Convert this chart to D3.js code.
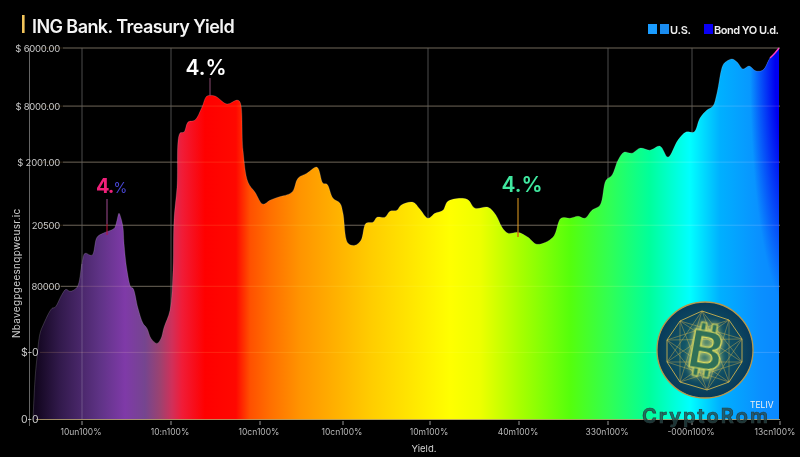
<!DOCTYPE html>
<html><head><meta charset="utf-8">
<script src="https://cdn.jsdelivr.net/npm/d3@7/dist/d3.min.js"></script>
<style>html,body{margin:0;background:#000}svg{display:block}text{font-family:Inter,"Noto Sans",sans-serif}</style>
</head><body><svg id="c" width="800" height="457"></svg>
<script>
const samples = [33,35,37,40,43,52,55,62,66,70,77,82,85,92,97,103,113,115,117,119,121,123,124,127,131,133,138,143,147,151,157,161,164,170,173,174,177,180,184,188,195,202,207,215,227,237,240,243,248,255,263,270,278,292,298,307,317,323,327,333,340,343,348,355,361,366,373,377,385,390,397,401,413,420,428,435,443,448,467,475,488,496,502,508,518,528,537,553,561,570,578,585,592,600,606,612,618,624,632,640,650,660,668,678,686,694,700,707,713,717,723,727,732,737,743,749,756,763,770,775,779];
const yields  = [0,40,62,86,94,111,112,125,130,128,132,156,166,164,182,186,190,192,199,206,201,192,176,149,132,131,111,96,91,81,76,81,92,109,149,199,232,286,287,297,299,312,323,323,315,319,317,269,237,227,215,219,222,227,241,246,252,236,235,221,216,206,176,174,179,196,197,202,202,208,209,214,217,210,201,206,209,218,220,211,212,204,192,186,187,182,175,182,201,201,203,201,209,214,239,244,259,267,266,271,269,273,262,279,287,287,301,309,313,326,354,358,360,357,350,353,348,349,361,366,371];
const xTicks = [82,171,260,343,430,519,608,692,780];
const xLabels = ["10un100%","10:n100%","10cn100%","10cn100%","10m100%","40m100%","330n100%","-000n100%","13cn100%"];
const xGrid = [82,171,428,608,692];
const yTicks = [371,313,257,194,133,67,0];
const yLabels = ["$ 6000.00","$ 8000.00","$ 2001.00","20500","80000","$-0","0-0"];
const colorPos = [36,60,100,125,145,160,172,182,205,236,250,270,300,370,420,450,480,520,570,610,650,690,720,760,779];
const colorVal = ["#12061f","#321a4c","#5f3386","#7f3aa8","#75458f","#9c4270","#d0305a","#f01c38","#ff0000","#ff0800","#ff5000","#ff6f00","#ff9400","#ffcc00","#ffec00","#ffff00","#eeff00","#a8ff00","#55ff0c","#30ff55","#00ff9c","#00ffff","#00b0ff","#0a90ff","#0a88ff"];

const svg = d3.select("#c");
const x = d3.scaleLinear().domain([0,800]).range([0,800]);
const y = d3.scaleLinear().domain([0,371]).range([419.5,48]);
const defs = svg.append("defs");
const pct = d3.scaleLinear().domain([33,779]).range([0,100]);
const g = defs.append("linearGradient").attr("id","rb");
colorPos.forEach((p,i)=>g.append("stop").attr("offset",pct(p)+"%").attr("stop-color",colorVal[i]));
const bl = defs.append("radialGradient").attr("id","bl").attr("gradientUnits","userSpaceOnUse")
  .attr("cx",0).attr("cy",0).attr("r",1).attr("gradientTransform","translate(792,70) scale(42,240)");
bl.append("stop").attr("offset","0%").attr("stop-color","#0000f0");
bl.append("stop").attr("offset","40%").attr("stop-color","#0000f0");
bl.append("stop").attr("offset","100%").attr("stop-color","#0000f0").attr("stop-opacity",0);
const pts = samples.map((s,i)=>[s,yields[i]]);

const gridCol="#4c4c4c";
const hStart=[63,63,63,63,61,40,40];
svg.selectAll(".h").data(yTicks).join("line").attr("x1",(d,i)=>hStart[i]).attr("x2",x(780)).attr("y1",d=>y(d)).attr("y2",d=>y(d)).attr("stroke",gridCol);
svg.selectAll(".v").data(xGrid).join("line").attr("x1",d=>x(d)).attr("x2",d=>x(d)).attr("y1",48).attr("y2",419).attr("stroke",gridCol);

const curve=d3.curveCatmullRom.alpha(0.5);
const area=d3.area().x(d=>x(d[0])).y0(y(0)).y1(d=>y(d[1])).curve(curve);
const line=d3.line().x(d=>x(d[0])).y(d=>y(d[1])).curve(curve);
svg.append("path").datum(pts).attr("d",area).attr("fill","url(#rb)");
svg.append("path").datum(pts).attr("d",area).attr("fill","url(#bl)");
svg.append("path").datum(pts).attr("d",line).attr("fill","none").attr("stroke","#fff").attr("stroke-opacity",.16);
svg.append("path").datum(pts.slice(-3)).attr("d",line).attr("fill","none").attr("stroke","#ff40c0").attr("stroke-width",1.4);

svg.append("g").style("mix-blend-mode","screen").selectAll("line").data(yTicks.slice(0,-1)).join("line").attr("x1",x(40)).attr("x2",x(780)).attr("y1",d=>y(d)).attr("y2",d=>y(d)).attr("stroke","#2a2010");
svg.append("line").attr("x1",x(82)).attr("x2",x(82)).attr("y1",264).attr("y2",419).attr("stroke","#fff").attr("stroke-opacity",.2);
svg.append("line").attr("x1",x(36)).attr("x2",x(780)).attr("y1",y(0)).attr("y2",y(0)).attr("stroke","#c8b070").attr("stroke-opacity",.7);

svg.append("line").attr("x1",29.5).attr("x2",29.5).attr("y1",48).attr("y2",426).attr("stroke","#666");
svg.selectAll(".yl").data(yTicks).join("text")
  .attr("x",(d,i)=>i<5?60:21).attr("y",d=>y(d)+3.5)
  .attr("text-anchor",(d,i)=>i<5?"end":"start")
  .attr("font-size",(d,i)=>i<5?9.5:10.5).attr("letter-spacing",-0.25).attr("fill","#c9c9c9")
  .text((d,i)=>yLabels[i]);
svg.selectAll(".xt").data(xTicks).join("line").attr("x1",d=>x(d)).attr("x2",d=>x(d)).attr("y1",421).attr("y2",425).attr("stroke","#999");
svg.selectAll(".xl").data(xTicks).join("text").attr("x",d=>Math.min(x(d)-1,775)).attr("y",435).attr("text-anchor","middle").attr("font-size",8.5).attr("fill","#b8b8b8").text((d,i)=>xLabels[i]);
svg.append("text").attr("x",424).attr("y",452).attr("text-anchor","middle").attr("font-size",9.5).attr("fill","#d0d0d0").text("Yield.");
svg.append("text").attr("transform","translate(20,338) rotate(-90)").attr("font-size",10).attr("letter-spacing",.3).attr("fill","#cfcfcf").text("Nbavegpgeesnqpweusr.ic");

svg.append("rect").attr("x",22).attr("y",15).attr("width",2.6).attr("height",18).attr("fill","#f2c45a");
svg.append("text").attr("x",32).attr("y",33).attr("font-size",18).attr("font-weight",600).attr("fill","#f4f4f4").attr("letter-spacing",-0.58).text("ING Bank. Treasury Yield");

[[648,"#1a9cff"],[660,"#1a8cf0"],[704,"#0a00f5"]].forEach(([lx,c])=>svg.append("rect").attr("x",lx).attr("y",24).attr("width",9).attr("height",10).attr("fill",c));
svg.append("text").attr("x",670).attr("y",33.5).attr("font-size",11).attr("font-weight",600).attr("fill","#eee").attr("letter-spacing",-0.3).text("U.S.");
svg.append("text").attr("x",714).attr("y",33.5).attr("font-size",11).attr("font-weight",600).attr("fill","#eee").attr("letter-spacing",-0.5).text("Bond YO U.d.");

const stem=(cx,a,b,c)=>svg.append("line").attr("x1",cx).attr("x2",cx).attr("y1",a).attr("y2",b).attr("stroke",c);
stem(210,78,96,"#8a4a70");
stem(107,199,224,"#a04a90"); stem(107,224,235,"#c0103c");
stem(518,198,232,"#e8a020"); stem(518,232,237,"#e02010");
svg.append("text").attr("x",206).attr("y",74.5).attr("text-anchor","middle").attr("font-size",21).attr("font-weight",600).attr("fill","#fff").text("4.%");
svg.append("text").attr("x",522).attr("y",191.5).attr("text-anchor","middle").attr("font-size",21).attr("font-weight",600).attr("fill","#40e8a0").text("4.%");
const t4=svg.append("text").attr("x",96).attr("y",193).attr("font-size",20).attr("font-weight",700).attr("letter-spacing",-1).attr("fill","#f0207a").text("4.");
t4.append("tspan").attr("font-size",14).attr("font-weight",400).attr("letter-spacing",0).attr("fill","#4a48d8").text("%");

const lg=svg.append("g").attr("transform","translate(705,350)");
const rg=defs.append("radialGradient").attr("id","lgf");
rg.append("stop").attr("offset","0%").attr("stop-color","#1a6a70");
rg.append("stop").attr("offset","100%").attr("stop-color","#083a5a");
lg.append("circle").attr("r",48).attr("fill","url(#lgf)").attr("stroke","#b8984a").attr("stroke-width",1.3);
const outer=[[-3,-39],[24,-30],[37,-11],[37,12],[24,32],[2,40],[-25,32],[-38,12],[-38,-10],[-25,-29]];
const gold="#c9b04e";
const poly=d3.line().curve(d3.curveLinearClosed);
lg.append("path").attr("d",poly(outer)).attr("fill","none").attr("stroke",gold).attr("stroke-width",.9);
outer.forEach((p,i)=>{[3,4].forEach(k=>{const q=outer[(i+k)%outer.length];lg.append("line").attr("x1",p[0]).attr("y1",p[1]).attr("x2",q[0]).attr("y2",q[1]).attr("stroke",gold).attr("stroke-width",.6).attr("stroke-opacity",.75);});});
const bc=lg.append("g").attr("transform","rotate(10)").style("filter","drop-shadow(0 0 3px #e0e070)");
[-8,3].forEach(dx=>{[-27,18].forEach(a=>bc.append("rect").attr("x",dx).attr("y",a).attr("width",5).attr("height",9).attr("fill","#2f7058").attr("stroke","#dcdc60").attr("stroke-width",1));});
bc.append("text").attr("text-anchor","middle").attr("x",1).attr("y",19).attr("font-size",52).attr("font-weight",700).attr("font-family","DejaVu Sans").attr("fill","#2f7058").attr("stroke","#dcdc60").attr("stroke-width",1.2).text("B");

svg.append("text").attr("x",642).attr("y",423).attr("font-size",20).attr("font-weight",600).attr("textLength",126).attr("fill","#24484a").attr("fill-opacity",.75).attr("stroke","#2c3c3c").attr("stroke-width",.7).text("CryptoRom");
svg.append("text").attr("x",750).attr("y",408).attr("font-size",8.5).attr("fill","#f0f0f0").text("TELIV");
</script></body></html>
